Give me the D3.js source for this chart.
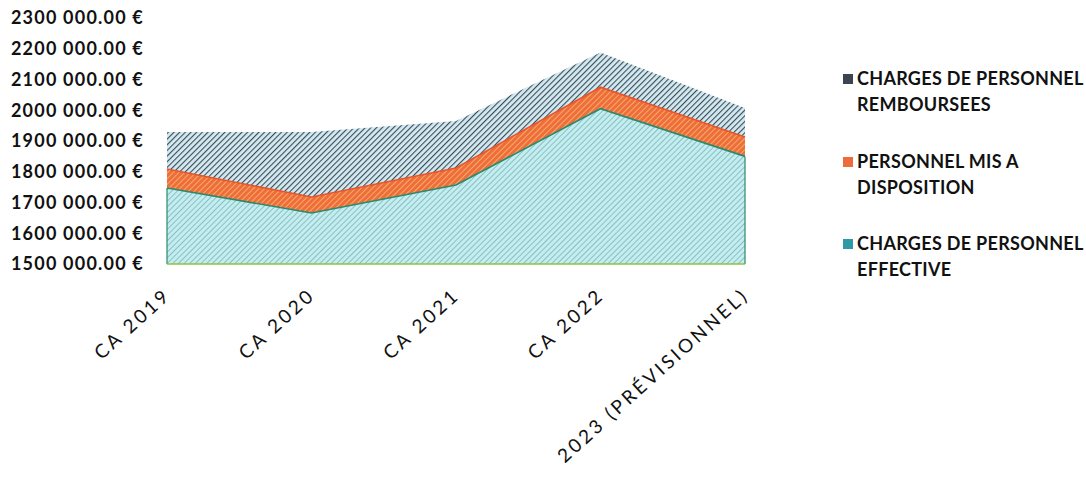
<!DOCTYPE html>
<html>
<head>
<meta charset="utf-8">
<script src="https://cdn.jsdelivr.net/npm/d3@7"></script>
<style>
  html, body { margin: 0; padding: 0; background: #ffffff; }
  svg { display: block; }
</style>
</head>
<body>
<svg id="chart" width="1086" height="481"></svg>
<script>
// Categories (budget years)
const categories = ["CA 2019", "CA 2020", "CA 2021", "CA 2022", "2023 (PRÉVISIONNEL)"];

// Stacked series, in euros (bottom to top)
const chargesEffective = [1747000, 1666000, 1757000, 2005000, 1850000];
const miseADisposition = [62000, 52000, 55000, 70000, 63000];
const chargesRemboursees = [120000, 211000, 153000, 113000, 94000];

// Value axis ticks
const yTicks = [1500000, 1600000, 1700000, 1800000, 1900000, 2000000, 2100000, 2200000, 2300000];

const legendLines = [
  ["CHARGES DE PERSONNEL", "REMBOURSEES"],
  ["PERSONNEL MIS A", "DISPOSITION"],
  ["CHARGES DE PERSONNEL", "EFFECTIVE"]
];

const svg = d3.select("#chart");
const FONT = "Lato, 'Open Sans', sans-serif";

const x = d3.scalePoint().domain(categories).range([167, 745]);
const y = d3.scaleLinear().domain([1500000, 2300000]).range([264, 18]);

// Hatch patterns
const defs = svg.append("defs");
function hatch(id, bg, stroke, width, gap) {
  const p = defs.append("pattern")
    .attr("id", id)
    .attr("patternUnits", "userSpaceOnUse")
    .attr("width", gap).attr("height", gap)
    .attr("patternTransform", "rotate(45)");
  p.append("rect").attr("width", gap).attr("height", gap).attr("fill", bg);
  p.append("line").attr("x1", 0).attr("y1", 0).attr("x2", 0).attr("y2", gap)
    .attr("stroke", stroke).attr("stroke-width", width);
}
hatch("hatchTeal", "#c0eff2", "#88a9ad", 1.5, 4);
hatch("hatchOrange", "#ef6d3a", "#f6c077", 1.5, 4);
hatch("hatchGrey", "#d2eaf1", "#3f4a56", 2.2, 4);

const rows = categories.map((c, i) => ({
  cat: c,
  eff: chargesEffective[i],
  mad: miseADisposition[i],
  rem: chargesRemboursees[i]
}));
const layers = d3.stack().keys(["eff", "mad", "rem"])(rows);

const fills = ["url(#hatchTeal)", "url(#hatchOrange)", "url(#hatchGrey)"];
const area = d3.area()
  .x(d => x(d.data.cat))
  .y0(d => d[0] === 0 ? y(1500000) : y(d[0]))
  .y1(d => y(d[1]));

const g = svg.append("g");
g.selectAll("path.layer")
  .data(layers)
  .join("path")
  .attr("class", "layer")
  .attr("d", area)
  .attr("fill", (d, i) => fills[i]);

// Outlines of the two lower areas
const lineTop = d3.line().x(d => x(d.data.cat)).y(d => y(d[1]));
g.append("path")
  .attr("d", lineTop(layers[0]))
  .attr("fill", "none").attr("stroke", "#2b8a6c").attr("stroke-width", 1.6);
g.append("path")
  .attr("d", lineTop(layers[1]))
  .attr("fill", "none").attr("stroke", "#e8542c").attr("stroke-width", 1.6);
[0, categories.length - 1].forEach(i => {
  g.append("line")
    .attr("x1", x(categories[i])).attr("x2", x(categories[i]))
    .attr("y1", y(1500000)).attr("y2", y(chargesEffective[i]))
    .attr("stroke", "#2b8a6c").attr("stroke-width", 1.2);
});
g.append("line")
  .attr("x1", x(categories[0])).attr("x2", x(categories[categories.length - 1]))
  .attr("y1", y(1500000)).attr("y2", y(1500000))
  .attr("stroke", "#8cc43c").attr("stroke-width", 1.6);

// Value axis labels
const fmt = v => {
  const s = d3.format(".2f")(v);
  const [intPart, dec] = s.split(".");
  return intPart.slice(0, intPart.length - 3) + " " + intPart.slice(-3) + "." + dec + " €";
};
const yAxis = d3.axisLeft(y).tickValues(yTicks).tickFormat(fmt).tickSize(0).tickPadding(0);
const ya = svg.append("g").attr("transform", "translate(144,0)").call(yAxis);
ya.select(".domain").remove();
ya.selectAll("text")
  .attr("font-family", FONT).attr("font-weight", "bold")
  .attr("font-size", 18).attr("letter-spacing", "1.2px").attr("fill", "#111");

// Category labels, rotated
const xAxis = d3.axisBottom(x).tickSize(0).tickPadding(0);
const xa = svg.append("g").attr("transform", "translate(0,292)").call(xAxis);
xa.select(".domain").remove();
xa.selectAll("text")
  .attr("font-family", FONT).attr("font-size", 19).attr("fill", "#111")
  .attr("letter-spacing", "3px")
  .attr("text-anchor", "end")
  .attr("dy", "0.35em")
  .attr("transform", "rotate(-42)");

// Legend
const legendColors = ["#3b4450", "#ef6a3a", "#2d9aa6"];
const legendY = [79, 162, 244];
const lg = svg.append("g");
legendLines.forEach((lines, i) => {
  lg.append("rect")
    .attr("x", 843).attr("y", legendY[i] - 5).attr("width", 10).attr("height", 10)
    .attr("fill", legendColors[i]);
  lines.forEach((t, j) => {
    lg.append("text")
      .attr("x", 857).attr("y", legendY[i] + j * 26)
      .attr("dy", "0.35em")
      .attr("font-family", FONT).attr("font-weight", "bold")
      .attr("font-size", 18).attr("letter-spacing", "0.3px").attr("fill", "#111")
      .text(t);
  });
});
</script>
</body>
</html>
